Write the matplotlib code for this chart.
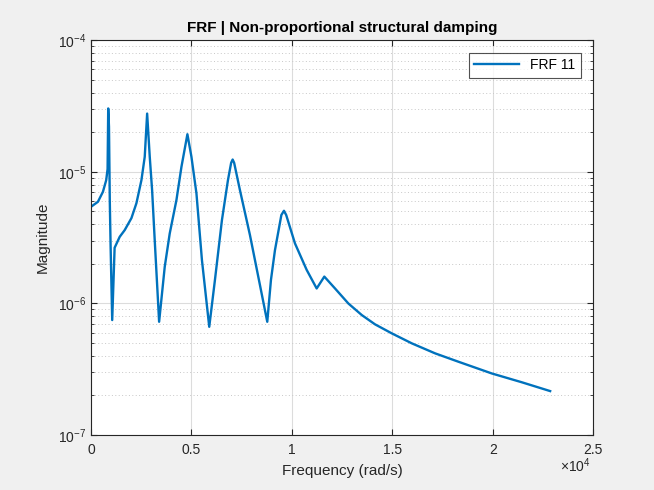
import matplotlib
matplotlib.use("Agg")
import matplotlib.pyplot as plt
from matplotlib.ticker import FuncFormatter, LogLocator, NullFormatter

plt.rcParams['font.family'] = ['Liberation Sans', 'DejaVu Sans']
plt.rcParams['mathtext.fontset'] = 'custom'
plt.rcParams['mathtext.rm'] = 'Liberation Sans'
plt.rcParams['mathtext.it'] = 'Liberation Sans'

# Frequency (rad/s) and FRF 11 magnitude
freq = [0, 349, 598, 762, 830, 862, 900, 940, 981, 1060, 1180, 1434, 1683,
        2017, 2266, 2515, 2679, 2799, 2929, 3046, 3176, 3311, 3395, 3675, 3923,
        4257, 4506, 4803, 5004, 5253, 5526, 5890, 6174, 6522, 6821, 6980, 7055,
        7130, 7418, 7916, 8414, 8778, 8962, 9161, 9480, 9609, 9720, 10157,
        10739, 11237, 11618, 12151, 12814, 13481, 14143, 14975, 15971, 17131,
        18292, 19955, 21449, 22859]
mag = [5.42e-6, 5.92e-6, 7.05e-6, 8.65e-6, 1.05e-5, 3.03e-5, 2.2e-5, 6.0e-6,
       2.70e-6, 7.48e-7, 2.65e-6, 3.21e-6, 3.61e-6, 4.45e-6, 5.78e-6, 8.65e-6,
       1.30e-5, 2.77e-5, 1.30e-5, 7.26e-6, 3.03e-6, 1.26e-6, 7.26e-7, 1.90e-6,
       3.40e-6, 6.10e-6, 1.09e-5, 1.93e-5, 1.30e-5, 6.86e-6, 2.14e-6, 6.65e-7,
       1.51e-6, 4.30e-6, 8.64e-6, 1.17e-5, 1.24e-5, 1.17e-5, 7.26e-6, 3.31e-6,
       1.38e-6, 7.26e-7, 1.51e-6, 2.54e-6, 4.70e-6, 5.06e-6, 4.70e-6, 2.86e-6,
       1.80e-6, 1.30e-6, 1.60e-6, 1.30e-6, 1.00e-6, 8.17e-7, 6.94e-7, 5.93e-7,
       4.98e-7, 4.18e-7, 3.61e-7, 2.94e-7, 2.52e-7, 2.16e-7]

fig = plt.figure(figsize=(6.54, 4.90), dpi=100, facecolor='#f0f0f0')
ax = fig.add_axes([0.139, 0.112, 0.768, 0.806])
ax.plot(freq, mag, color='#0072BD', lw=1.7, label='FRF 11')
ax.set_yscale('log')
ax.set_xlim(0, 25000)
ax.set_ylim(1e-7, 1e-4)
ax.set_xticks([0, 5000, 10000, 15000, 20000, 25000])
ax.xaxis.set_major_formatter(FuncFormatter(lambda v, p: f'{v/1e4:g}'))
ax.yaxis.set_major_locator(LogLocator(base=10, numticks=10))
ax.yaxis.set_minor_locator(LogLocator(base=10, subs=range(2, 10), numticks=20))
ax.yaxis.set_minor_formatter(NullFormatter())

ax.grid(True, which='major', color='#dcdcdc', lw=0.8, ls='-')
ax.grid(True, which='minor', axis='y', color='#c8c8c8', lw=0.7, ls=(0, (1, 2.5)))
ax.set_axisbelow(True)

for s in ax.spines.values():
    s.set_color('#262626')
    s.set_linewidth(0.8)
ax.tick_params(which='both', direction='in', top=True, right=True,
               colors='#262626', labelsize=10, labelcolor='#262626')
ax.tick_params(which='major', length=4)
ax.tick_params(which='minor', length=2)
ax.tick_params(axis='x', pad=6)

ax.set_xlabel('Frequency (rad/s)', fontsize=11, color='#262626', labelpad=5)
ax.set_ylabel('Magnitude', fontsize=11, color='#262626', labelpad=6)
ax.set_title('FRF | Non-proportional structural damping', fontsize=11,
             fontweight='bold', color='#000000', pad=6)
ax.text(0.995, -0.093, r'$\times$10$^{4}$', transform=ax.transAxes, ha='right',
        va='baseline', fontsize=10, color='#262626')

leg = ax.legend(loc='upper right', fontsize=10, frameon=True, fancybox=False,
                borderaxespad=0.9, handlelength=3.2, borderpad=0.4)
leg.get_frame().set_edgecolor('#262626')
leg.get_frame().set_linewidth(0.8)

fig.savefig('out.png', dpi=100, facecolor=fig.get_facecolor())
